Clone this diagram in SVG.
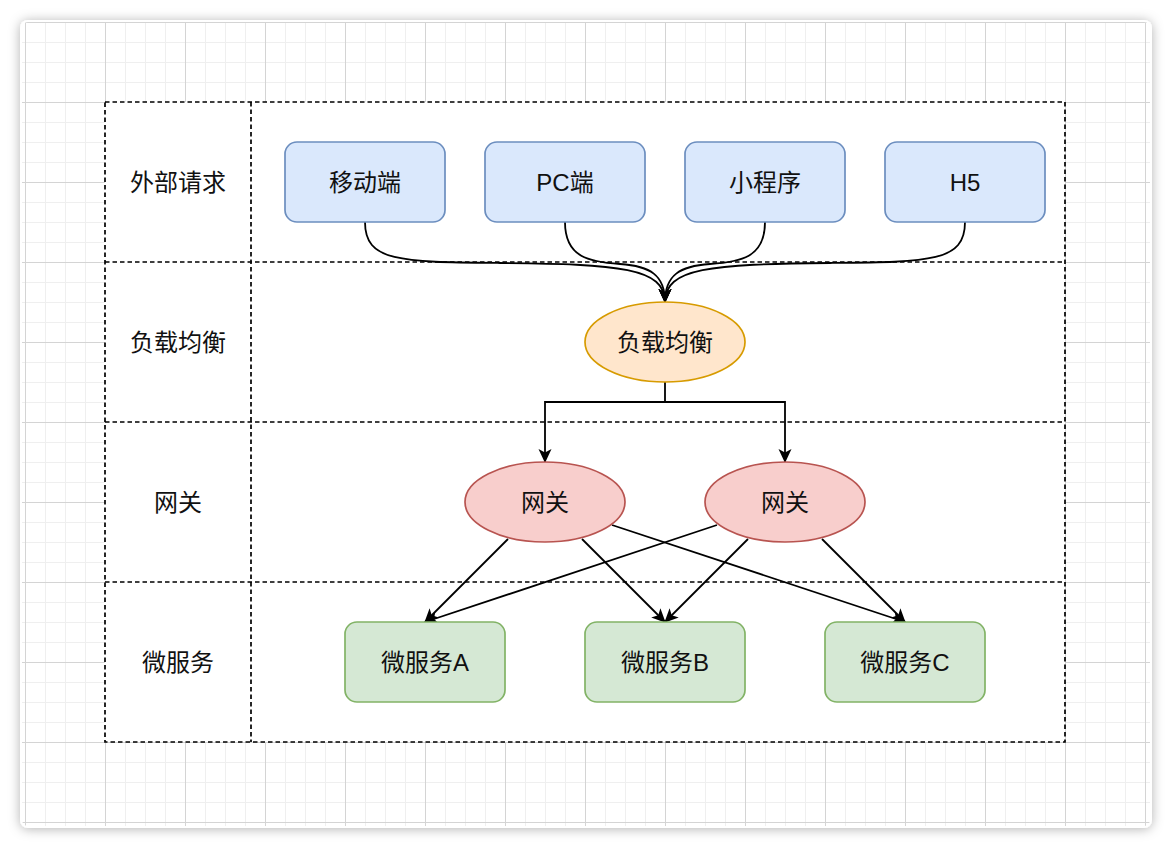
<svg xmlns="http://www.w3.org/2000/svg" width="1172" height="848" viewBox="0 0 1172 848">
<defs>
<filter id="sh" x="-5%" y="-5%" width="110%" height="110%">
<feDropShadow dx="0" dy="1" stdDeviation="6" flood-color="#000" flood-opacity="0.3"/>
</filter>
<pattern id="minor" patternUnits="userSpaceOnUse" x="5" y="2" width="20" height="20">
<path d="M0 0.5H20M0.5 0V20" fill="none" stroke="#efefef" stroke-width="1"/>
</pattern>
<pattern id="major" patternUnits="userSpaceOnUse" x="25" y="22" width="80" height="80">
<path d="M0 0.5H80M0.5 0V80" fill="none" stroke="#d4d4d4" stroke-width="1"/>
</pattern>
<clipPath id="cardclip"><rect x="22" y="22" width="1128" height="804" rx="6"/></clipPath>
<marker id="arr" viewBox="0 0 14 14" refX="13" refY="7" markerWidth="14" markerHeight="14" markerUnits="userSpaceOnUse" orient="auto">
<path d="M0,0.5 L14,7 L0,13.5 L3.5,7 Z" fill="#000"/>
</marker>
</defs>
<style>
text{font-family:"Liberation Sans","Noto Sans CJK SC",sans-serif;font-size:24px;fill:#111;text-anchor:middle;dominant-baseline:central}
.dash{fill:none;stroke:#000;stroke-width:1.7;stroke-dasharray:4.5 3}
.blue{fill:#dae8fc;stroke:#6c8ebf;stroke-width:1.7}
.orange{fill:#ffe6cc;stroke:#d79b00;stroke-width:1.7}
.red{fill:#f8cecc;stroke:#b85450;stroke-width:1.7}
.green{fill:#d5e8d4;stroke:#82b366;stroke-width:1.7}
.edge{fill:none;stroke:#000;stroke-width:1.8}
.arrow{marker-end:url(#arr)}
</style>
<rect x="0" y="0" width="1172" height="848" fill="#fff"/>
<rect x="20" y="20" width="1132" height="808" rx="8" fill="#fff" filter="url(#sh)"/>
<g clip-path="url(#cardclip)">
<rect x="22" y="22" width="1128" height="804" fill="url(#minor)"/>
<rect x="22" y="22" width="1128" height="804" fill="url(#major)"/>
</g>
<g id="lanes">
<rect x="105" y="102" width="960" height="640" fill="#fff"/>
<rect class="dash" x="105" y="102" width="960" height="640"/>
<path class="dash" d="M105 262H1065M105 422H1065M105 582H1065M251 102V742"/>
<text x="178" y="182">外部请求</text>
<text x="178" y="342">负载均衡</text>
<text x="178" y="502">网关</text>
<text x="178" y="662">微服务</text>
</g>
<g id="connectors">
<path class="edge arrow" d="M365,222 C365,262 400,262 500,263 C620,264 665,268 665,302"/>
<path class="edge arrow" d="M565,222 C565,258 590,262 620,264 C650,266 665,275 665,302"/>
<path class="edge arrow" d="M765,222 C765,258 740,262 710,264 C680,266 665,275 665,302"/>
<path class="edge arrow" d="M965,222 C965,262 930,262 830,263 C710,264 665,268 665,302"/>
<path class="edge arrow" d="M665,382 V402 H545 V462"/>
<path class="edge arrow" d="M665,402 H785 V462"/>
<path class="edge arrow" d="M508,539 L425,622"/>
<path class="edge arrow" d="M582,539 L665,622"/>
<path class="edge arrow" d="M612,525 L905,622"/>
<path class="edge arrow" d="M717,525 L425,622"/>
<path class="edge arrow" d="M748,539 L665,622"/>
<path class="edge arrow" d="M822,539 L905,622"/>
</g>
<g id="n-mobile"><rect class="blue" x="285" y="142" width="160" height="80" rx="12"/><text x="365" y="182">移动端</text></g>
<g id="n-pc"><rect class="blue" x="485" y="142" width="160" height="80" rx="12"/><text x="565" y="182">PC端</text></g>
<g id="n-mini"><rect class="blue" x="685" y="142" width="160" height="80" rx="12"/><text x="765" y="182">小程序</text></g>
<g id="n-h5"><rect class="blue" x="885" y="142" width="160" height="80" rx="12"/><text x="965" y="182">H5</text></g>
<g id="n-lb"><ellipse class="orange" cx="665" cy="342" rx="80" ry="40"/><text x="665" y="342">负载均衡</text></g>
<g id="n-gw1"><ellipse class="red" cx="545" cy="502" rx="80" ry="40"/><text x="545" y="502">网关</text></g>
<g id="n-gw2"><ellipse class="red" cx="785" cy="502" rx="80" ry="40"/><text x="785" y="502">网关</text></g>
<g id="n-msa"><rect class="green" x="345" y="622" width="160" height="80" rx="12"/><text x="425" y="662">微服务A</text></g>
<g id="n-msb"><rect class="green" x="585" y="622" width="160" height="80" rx="12"/><text x="665" y="662">微服务B</text></g>
<g id="n-msc"><rect class="green" x="825" y="622" width="160" height="80" rx="12"/><text x="905" y="662">微服务C</text></g>
</svg>
